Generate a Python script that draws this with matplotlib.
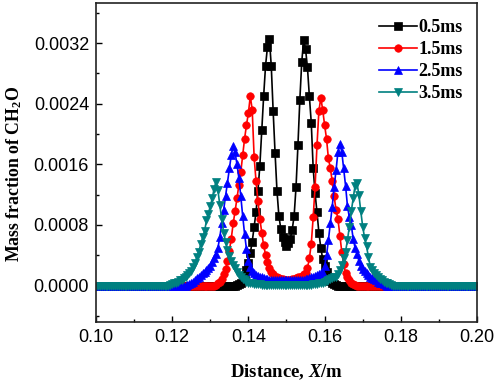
import numpy as np
import matplotlib
matplotlib.use("Agg")
import matplotlib.pyplot as plt
from matplotlib.ticker import MultipleLocator, FormatStrFormatter

# ---------------- data ----------------
x_start, x_stop, x_step = 0.100, 0.200, 0.0005
labels = ["0.5ms", "1.5ms", "2.5ms", "3.5ms"]

# black, 0.5 ms : values from x = 0.1365 upward, step 0.0005
black_x0 = 0.1365
black_vals = [
    0.0, 0.00001, 0.00002, 0.00004, 0.00007, 0.00012, 0.00020, 0.00030, 0.00043, 0.00058,
    0.00077, 0.00097, 0.00125, 0.00158, 0.00205, 0.00250, 0.00290, 0.00315, 0.00326, 0.00290,
    0.00230, 0.00175, 0.00125, 0.00092, 0.00075, 0.00064, 0.00057, 0.00052,
    0.00056, 0.00062, 0.00074, 0.00092, 0.00130, 0.00185, 0.00245, 0.00295, 0.00324, 0.00312,
    0.00288, 0.00250, 0.00215, 0.00155, 0.00122, 0.00097, 0.00070, 0.00050, 0.00035, 0.00026,
    0.00018, 0.00011, 0.00006, 0.00003, 0.00002, 0.00001, 0.0,
]

# red, 1.5 ms : values from x = 0.1310 upward
red_x0 = 0.1310
red_vals = [
    0.0, 0.00001, 0.00003, 0.00005, 0.00009, 0.00015, 0.00022, 0.00032, 0.00046, 0.00062,
    0.00082, 0.00098, 0.00115, 0.00133, 0.00150, 0.00172, 0.00194, 0.00212, 0.00228, 0.00250,
    0.00232, 0.00170, 0.00138, 0.00112, 0.00088, 0.00070, 0.00053, 0.00041, 0.00031, 0.00023,
    0.00018, 0.00015, 0.00012, 0.00011, 0.00010, 0.00009, 0.00009, 0.00008, 0.00008,
    0.00008, 0.00008, 0.00009, 0.00009, 0.00010, 0.00011, 0.00012, 0.00013, 0.00015, 0.00017,
    0.00023, 0.00036, 0.00055, 0.00090, 0.00130, 0.00185, 0.00230, 0.00248, 0.00232, 0.00212,
    0.00194, 0.00168, 0.00155, 0.00138, 0.00118, 0.00100, 0.00088, 0.00066, 0.00045, 0.00028,
    0.00017, 0.00011, 0.00007, 0.00004, 0.00002, 0.00001, 0.0,
]

# blue, 2.5 ms : values from x = 0.1235 upward
blue_x0 = 0.1235
blue_vals = [
    0.0, 0.00001, 0.00002, 0.00003, 0.00005, 0.00007, 0.00010, 0.00012, 0.00014, 0.00016,
    0.00018, 0.00020, 0.00023, 0.00026, 0.00031, 0.00036, 0.00042, 0.00050, 0.00064, 0.00082,
    0.00100, 0.00118, 0.00136, 0.00155, 0.00172, 0.00184, 0.00176, 0.00160, 0.00142, 0.00118,
    0.00092, 0.00068, 0.00048, 0.00032, 0.00024, 0.00019, 0.00016, 0.00014, 0.00013, 0.00012,
    0.00011, 0.00010, 0.00009, 0.00009, 0.00008, 0.00008, 0.00007, 0.00007, 0.00007, 0.00007,
    0.00007, 0.00007, 0.00007, 0.00007,
    0.00007, 0.00007, 0.00007, 0.00007, 0.00007, 0.00007, 0.00008, 0.00008, 0.00008, 0.00009,
    0.00009, 0.00010, 0.00011, 0.00012, 0.00013, 0.00014, 0.00015, 0.00016, 0.00017, 0.00026,
    0.00040, 0.00060, 0.00082, 0.00104, 0.00130, 0.00152, 0.00176, 0.00187, 0.00177, 0.00155,
    0.00132, 0.00105, 0.00090, 0.00080, 0.00062, 0.00050, 0.00042, 0.00033, 0.00026, 0.00022,
    0.00019, 0.00016, 0.00014, 0.00012, 0.00010, 0.00009, 0.00007, 0.00005, 0.00004, 0.00003,
    0.00002, 0.00001, 0.0,
]

# teal, 3.5 ms : values from x = 0.1190 upward
teal_x0 = 0.1190
teal_vals = [
    0.0, 0.00001, 0.00002, 0.00003, 0.00004, 0.00005, 0.00007, 0.00008, 0.00010, 0.00012,
    0.00014, 0.00016, 0.00019, 0.00024, 0.00030, 0.00038, 0.00045, 0.00055, 0.00064, 0.00072,
    0.00086, 0.00095, 0.00105, 0.00115, 0.00128, 0.00137, 0.00126, 0.00106, 0.00088, 0.00070,
    0.00058, 0.00047, 0.00039, 0.00032, 0.00027, 0.00023, 0.00018, 0.00014, 0.00011, 0.00009,
    0.00007, 0.00005, 0.00004, 0.00003, 0.00003, 0.00002, 0.00002, 0.00002, 0.00002, 0.00001,
    0.00001, 0.00001, 0.00001, 0.00001, 0.00001, 0.00001, 0.00001, 0.00001, 0.00001, 0.00001,
    0.00001, 0.00001, 0.00001,
    0.00001, 0.00001, 0.00001, 0.00001, 0.00001, 0.00001, 0.00001, 0.00001, 0.00001, 0.00001,
    0.00001, 0.00001, 0.00001, 0.00002, 0.00002, 0.00002, 0.00003, 0.00003, 0.00004, 0.00005,
    0.00006, 0.00008, 0.00009, 0.00010, 0.00011, 0.00012, 0.00015, 0.00020, 0.00027, 0.00036,
    0.00045, 0.00060, 0.00078, 0.00098, 0.00115, 0.00132, 0.00135, 0.00120, 0.00098, 0.00078,
    0.00063, 0.00052, 0.00038, 0.00025, 0.00020, 0.00017, 0.00014, 0.00011, 0.00009, 0.00007,
    0.00005, 0.00004, 0.00003, 0.00002, 0.00001, 0.0,
]

x_ticks = [0.10, 0.12, 0.14, 0.16, 0.18, 0.20]
y_ticks = [0.0000, 0.0008, 0.0016, 0.0024, 0.0032]

# ---------------- build series on the common grid ----------------
n = int(round((x_stop - x_start) / x_step)) + 1
x = np.linspace(x_start, x_stop, n)


def place(x0, vals):
    y = np.zeros(n)
    i0 = int(round((x0 - x_start) / x_step))
    y[i0:i0 + len(vals)] = vals[: n - i0]
    return y


series = [place(black_x0, black_vals), place(red_x0, red_vals),
          place(blue_x0, blue_vals), place(teal_x0, teal_vals)]
colors = ["#000000", "#FF0000", "#0000FF", "#008080"]
markers = ["s", "o", "^", "v"]

# ---------------- plotting ----------------
plt.rcParams["mathtext.fontset"] = "custom"
plt.rcParams["mathtext.rm"] = "Liberation Serif:bold"
plt.rcParams["mathtext.bf"] = "Liberation Serif:bold"
plt.rcParams["mathtext.it"] = "Liberation Serif:bold:italic"

fig = plt.figure(figsize=(4.98, 3.83), dpi=100)
ax = fig.add_axes([0.1928, 0.1593, 0.7650, 0.8329])

for y, c, m, lab in zip(series, colors, markers, labels):
    ax.plot(x, y, color=c, marker=m, markersize=5.4, linewidth=1.2,
            markeredgewidth=0.5, markeredgecolor=c, label=lab)

ax.set_xlim(0.10, 0.20)
ax.set_ylim(-0.00048, 0.00373)
ax.set_xticks(x_ticks)
ax.set_yticks(y_ticks)
ax.xaxis.set_minor_locator(MultipleLocator(0.01))
ax.yaxis.set_minor_locator(MultipleLocator(0.0004))
ax.xaxis.set_major_formatter(FormatStrFormatter("%.2f"))
ax.yaxis.set_major_formatter(FormatStrFormatter("%.4f"))
ax.tick_params(which="both", direction="in", top=False, right=False, width=1.0)
ax.tick_params(which="major", length=4.5, labelsize=13, pad=5)
ax.tick_params(which="minor", length=2.5)
for lbl in ax.get_xticklabels() + ax.get_yticklabels():
    lbl.set_fontfamily("Liberation Sans")
for sp in ax.spines.values():
    sp.set_linewidth(1.2)
    sp.set_color("#222222")

ax.set_xlabel("Distance, $\\mathit{X}$/m", fontfamily="Liberation Serif",
              fontweight="bold", fontsize=13.5, labelpad=12)
ax.set_ylabel("Mass fraction of CH$_\\mathbf{2}$O", fontfamily="Liberation Serif",
              fontweight="bold", fontsize=12.8)
ax.yaxis.set_label_coords(-0.19, 0.465)

leg = ax.legend(loc="upper right", frameon=False, handlelength=2.1,
                handletextpad=0.1, labelspacing=0.28, borderaxespad=0.0,
                prop={"family": "Liberation Serif", "weight": "bold", "size": 13.0},
                bbox_to_anchor=(0.982, 0.972))

fig.savefig("out.png", dpi=100)
